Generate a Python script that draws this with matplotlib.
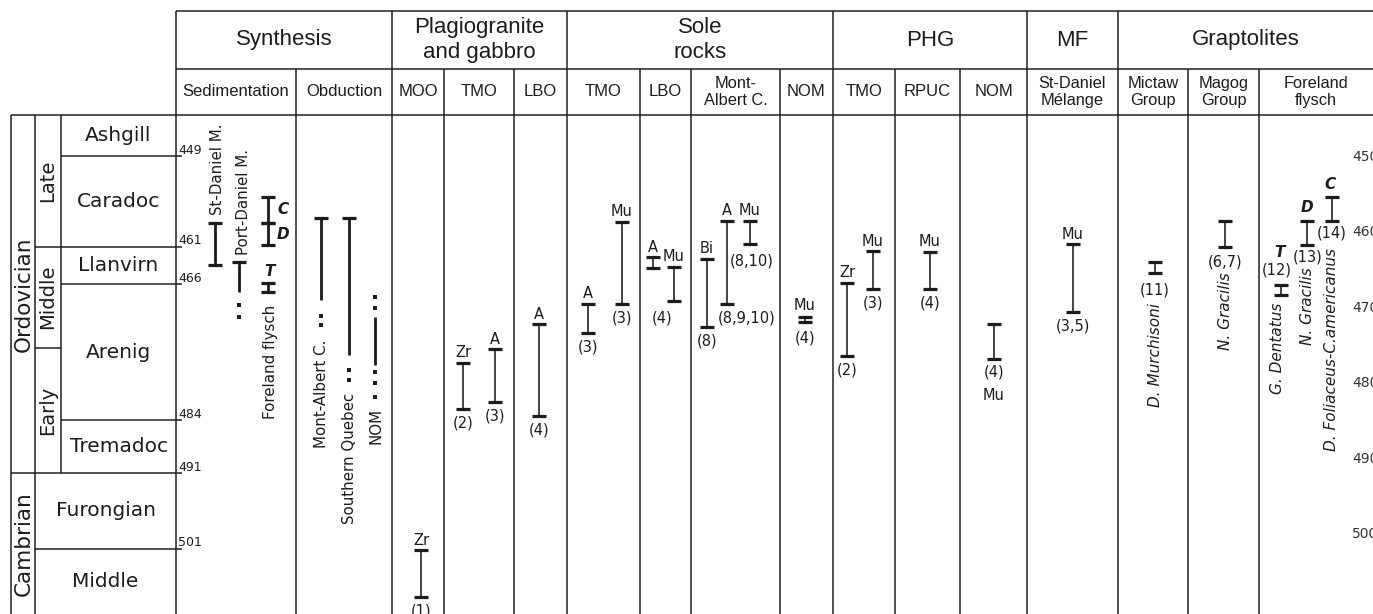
import matplotlib
matplotlib.use("Agg")
import matplotlib.pyplot as plt

W, H, DPI = 1373, 614, 100
PX = 72.0 / DPI          # points per pixel

# ------------------------------------------------------------------ data
period_names = ["Ordovician", "Cambrian"]
period_bounds = [443.6, 491, 509.7]
epoch_names = ["Late", "Middle", "Early"]
epoch_bounds = [443.6, 461, 474.4, 491]
stage_names = ["Ashgill", "Caradoc", "Llanvirn", "Arenig", "Tremadoc", "Furongian", "Middle"]
stage_bounds = [443.6, 449, 461, 466, 484, 491, 501, 509.7]
left_ticks = [449, 461, 466, 484, 491, 501]
right_ticks = [450, 460, 470, 480, 490, 500]

group_names = ["Synthesis", "Plagiogranite\nand gabbro", "Sole\nrocks", "PHG", "MF", "Graptolites"]
sub_names = ["Sedimentation", "Obduction", "MOO", "TMO", "LBO", "TMO", "LBO",
             "Mont-\nAlbert C.", "NOM", "TMO", "RPUC", "NOM", "St-Daniel\nMélange",
             "Mictaw\nGroup", "Magog\nGroup", "Foreland\nflysch"]

# age ranges (Ma) of every bar: top (younger) and bottom (older)
bar_top = [457.9, 463.0, 454.4, 457.9, 465.8, 457.2, 457.2, 470.3,
           501.2, 476.4, 474.6, 471.3,
           468.6, 457.7, 462.4, 463.7, 462.6, 457.6, 457.6, 470.3,
           465.8, 461.6, 461.7, 471.3,
           460.7,
           463.0, 457.6, 466.1, 457.6, 454.4]
bar_bot = [463.4, 467.0, 457.9, 460.8, 467.0, 468.1, 475.4, 476.7,
           507.4, 482.5, 481.6, 483.4,
           472.4, 468.6, 463.8, 468.2, 471.6, 468.6, 460.7, 471.0,
           475.5, 466.6, 466.6, 475.9,
           469.7,
           464.5, 461.1, 467.4, 460.8, 457.6]
bar_mineral = ["", "", "", "", "", "", "", "",
               "Zr", "Zr", "A", "A",
               "A", "Mu", "A", "Mu", "Bi", "A", "Mu", "Mu",
               "Zr", "Mu", "Mu", "Mu",
               "Mu",
               "", "", "", "", ""]
bar_ref = ["", "", "", "", "", "", "", "",
           "(1)", "(2)", "(3)", "(4)",
           "(3)", "(3)", "", "(4)", "(8)", "(8,9,10)", "(8,10)", "(4)",
           "(2)", "(3)", "(4)", "(4)",
           "(3,5)",
           "(11)", "(6,7)", "(12)", "(13)", "(14)"]
bar_tag = ["", "", "C", "D", "T", "", "", "",
           "", "", "", "",
           "", "", "", "", "", "", "", "",
           "", "", "", "",
           "",
           "", "", "T", "D", "C"]
# dotted (uncertain) extensions
bar_dots = {1: [468.7, 470.3], 5: [470.2, 471.4], 6: [477.3, 478.7],
            7: [467.7, 469.1, 477.6, 479.1, 480.9]}
# rotated names attached to bars
name_text = ["St-Daniel M.", "Port-Daniel M.", "Foreland flysch",
             "Mont-Albert C.", "Southern Quebec", "NOM",
             "D. Murchisoni", "N. Gracilis", "G. Dentatus", "N. Gracilis",
             "D. Foliaceus-C.americanus"]
name_bar = [0, 1, 4, 5, 6, 7, 25, 26, 27, 28, 29]
name_age = [None, None, None, 471.4, 478.7, 480.9, None, None, None, None, None]

# ------------------------------------------------------------------ layout
col_edges = [176, 296, 392, 444, 514, 567, 640, 691, 780, 833, 895, 960,
             1027, 1118, 1188, 1259, 1373]
group_span = [(0, 2), (2, 5), (5, 9), (9, 12), (12, 13), (13, 16)]
bar_x = [215, 239, 268, 268, 268, 321, 349, 375,
         421, 463, 495, 539,
         588, 622, 653, 674, 707, 727, 750, 805,
         847, 873, 930, 994,
         1073,
         1155, 1225, 1281, 1307, 1332]
thick_bars = set(range(0, 8))
no_bottom_cap = {1, 5, 6, 7}
no_top_cap = {7}
# label offsets in px (dx, dy); dy positive = downwards
mineral_off = {19: (0, -11), 23: (0, 36)}
ref_off = {15: (-12, 17), 17: (20, 14), 18: (2, 17), 19: (0, 16), 23: (0, 13),
           25: (0, 17), 26: (0, 15), 27: (-4, -15), 28: (1, 12), 29: (0, 12)}
tag_off = {2: ("mid", 15, 0), 3: ("mid", 15, 0), 4: ("top", 1, -11),
           27: ("top", -2, -33), 28: ("top", 0, -13), 29: ("top", -2, -12)}
name_place = [(2, -8, "bottom"), (4, -7, "bottom"), (2, 13, "top"),
              (0, 15, "top"), (0, 13, "top"), (1, 11, "top"),
              (0, 30, "top"), (0, 25, "top"), (-3, 8, "top"), (0, 22, "top"),
              (-1, 27, "top")]
italic_names = set(range(6, 11))

LC = "#1c1c1c"
TC = "#1c1c1c"
LW = 1.5 * PX
HDR_FONT = "Liberation Sans"
BODY_FONT = "DejaVu Sans"

Y_HDR = 115
fig = plt.figure(figsize=(W / DPI, H / DPI), dpi=DPI)
fig.patch.set_facecolor("white")
axh = fig.add_axes([0, 1 - Y_HDR / H, 1, Y_HDR / H])
axh.set_xlim(0, W)
axh.set_ylim(Y_HDR, 0)
axh.axis("off")

ax = fig.add_axes([0, 0, 1, 1 - Y_HDR / H])
AGE0, PXPMA = 449.0, 7.55


def age_at(ypx):
    return AGE0 + (ypx - 156) / PXPMA


TOP, BOT = age_at(Y_HDR), age_at(H)
ax.set_xlim(0, W)
ax.set_ylim(BOT, TOP)
ax.axis("off")


def off(dx, dy):
    return (dx * PX, -dy * PX)


# ------------------------------------------------------------------ header
kw = dict(color=LC, lw=LW, clip_on=False)
axh.hlines([11, 69], col_edges[0], W, **kw)
ax.hlines(TOP, 11, W, **kw)
group_edges = [col_edges[a] for a, b in group_span]
for x in col_edges[:-1]:
    if x in group_edges:
        axh.vlines(x, 11, Y_HDR, **kw)
    else:
        axh.vlines(x, 69, Y_HDR, **kw)
    ax.vlines(x, BOT, TOP, **kw)

for name, (a, b) in zip(group_names, group_span):
    xc = (col_edges[a] + col_edges[b]) / 2
    axh.text(xc, 40, name, ha="center", va="center", fontsize=16,
             family=HDR_FONT, color=TC, linespacing=1.2)
for i, name in enumerate(sub_names):
    xc = (col_edges[i] + col_edges[i + 1]) / 2
    axh.text(xc, 92, name, ha="center", va="center", fontsize=12 if "\n" not in name else 11.8,
             family=HDR_FONT, color=TC, linespacing=1.15)

# ------------------------------------------------------------------ timescale
XP, XE, XS, XR = 11, 35, 61, 176
ax.vlines([XP, XE], BOT, TOP, **kw)
ax.vlines(XS, period_bounds[1], TOP, **kw)
stage_x0 = [XS if b <= period_bounds[1] else XE for b in stage_bounds[1:]]
for i in range(1, len(stage_bounds) - 1):
    ax.hlines(stage_bounds[i], min(stage_x0[i - 1], stage_x0[i]), XR + 6, **kw)
for b in epoch_bounds[1:-1]:
    ax.hlines(b, XE, XS, **kw)
for b in period_bounds[1:-1]:
    ax.hlines(b, XP, XE, **kw)

for i, name in enumerate(stage_names):
    yc = (stage_bounds[i] + stage_bounds[i + 1]) / 2
    ax.text((stage_x0[i] + XR) / 2, yc, name, ha="center", va="center",
            fontsize=14.5, family=BODY_FONT, color=TC)
for i, name in enumerate(epoch_names):
    yc = (epoch_bounds[i] + epoch_bounds[i + 1]) / 2
    ax.text((XE + XS) / 2, yc, name, ha="center", va="center", rotation=90,
            fontsize=14, family=BODY_FONT, color=TC)
for i, name in enumerate(period_names):
    yc = (period_bounds[i] + period_bounds[i + 1]) / 2
    ax.text((XP + XE) / 2 + 1, yc, name, ha="center", va="center", rotation=90,
            fontsize=15.5, family=BODY_FONT, color=TC)
for t in left_ticks:
    ax.annotate(str(t), (XR + 2, t), xytext=off(0, -6), textcoords="offset points",
                ha="left", va="center", fontsize=9, family=BODY_FONT, color=TC)
for t in right_ticks:
    ax.annotate(str(t), (1352, t), xytext=off(0, -7), textcoords="offset points",
                ha="left", va="center", fontsize=10, family=BODY_FONT, color="#333333",
                annotation_clip=False)

# ------------------------------------------------------------------ bars
CAP = 7
for i, (x, t, b) in enumerate(zip(bar_x, bar_top, bar_bot)):
    lw = (2.8 if i in thick_bars else 1.6) * PX
    ax.vlines(x, t, b, color=LC, lw=lw)
    if i not in no_top_cap:
        ax.hlines(t, x - CAP, x + CAP, color=LC, lw=3.2 * PX)
    if i not in no_bottom_cap:
        ax.hlines(b, x - CAP, x + CAP, color=LC, lw=3.2 * PX)
    if i in bar_dots:
        d = bar_dots[i]
        ax.plot([x] * len(d), d, ls="none", marker="s", ms=3.2 * PX,
                color=LC, mew=0)
    if bar_mineral[i]:
        dx, dy = mineral_off.get(i, (0, -10))
        ref_age = t if dy < 0 else b
        ax.annotate(bar_mineral[i], (x, ref_age), xytext=off(dx, dy),
                    textcoords="offset points", ha="center", va="center",
                    fontsize=10.5, family=BODY_FONT, color=TC)
    if bar_ref[i]:
        dx, dy = ref_off.get(i, (0, 14))
        ref_age = t if dy < 0 else b
        ax.annotate(bar_ref[i], (x, ref_age), xytext=off(dx, dy),
                    textcoords="offset points", ha="center", va="center",
                    fontsize=10.5, family=BODY_FONT, color=TC)
    if bar_tag[i]:
        anchor, dx, dy = tag_off[i]
        ref_age = {"top": t, "mid": (t + b) / 2, "bottom": b}[anchor]
        ax.annotate(bar_tag[i], (x, ref_age), xytext=off(dx, dy),
                    textcoords="offset points", ha="center", va="center",
                    fontsize=11, family=BODY_FONT, weight="bold", style="italic",
                    color=TC)

for k, (name, bi) in enumerate(zip(name_text, name_bar)):
    dx, dy, va = name_place[k]
    if name_age[k] is not None:
        ref_age = name_age[k]
    else:
        ref_age = bar_top[bi] if va == "bottom" else bar_bot[bi]
    ax.annotate(name, (bar_x[bi], ref_age), xytext=off(dx, dy),
                textcoords="offset points", ha="center", va=va, rotation=90,
                fontsize=11 if k in italic_names else 10.8, family=BODY_FONT,
                style="italic" if k in italic_names else "normal", color=TC)

fig.savefig("out.png", dpi=DPI, facecolor="white")
